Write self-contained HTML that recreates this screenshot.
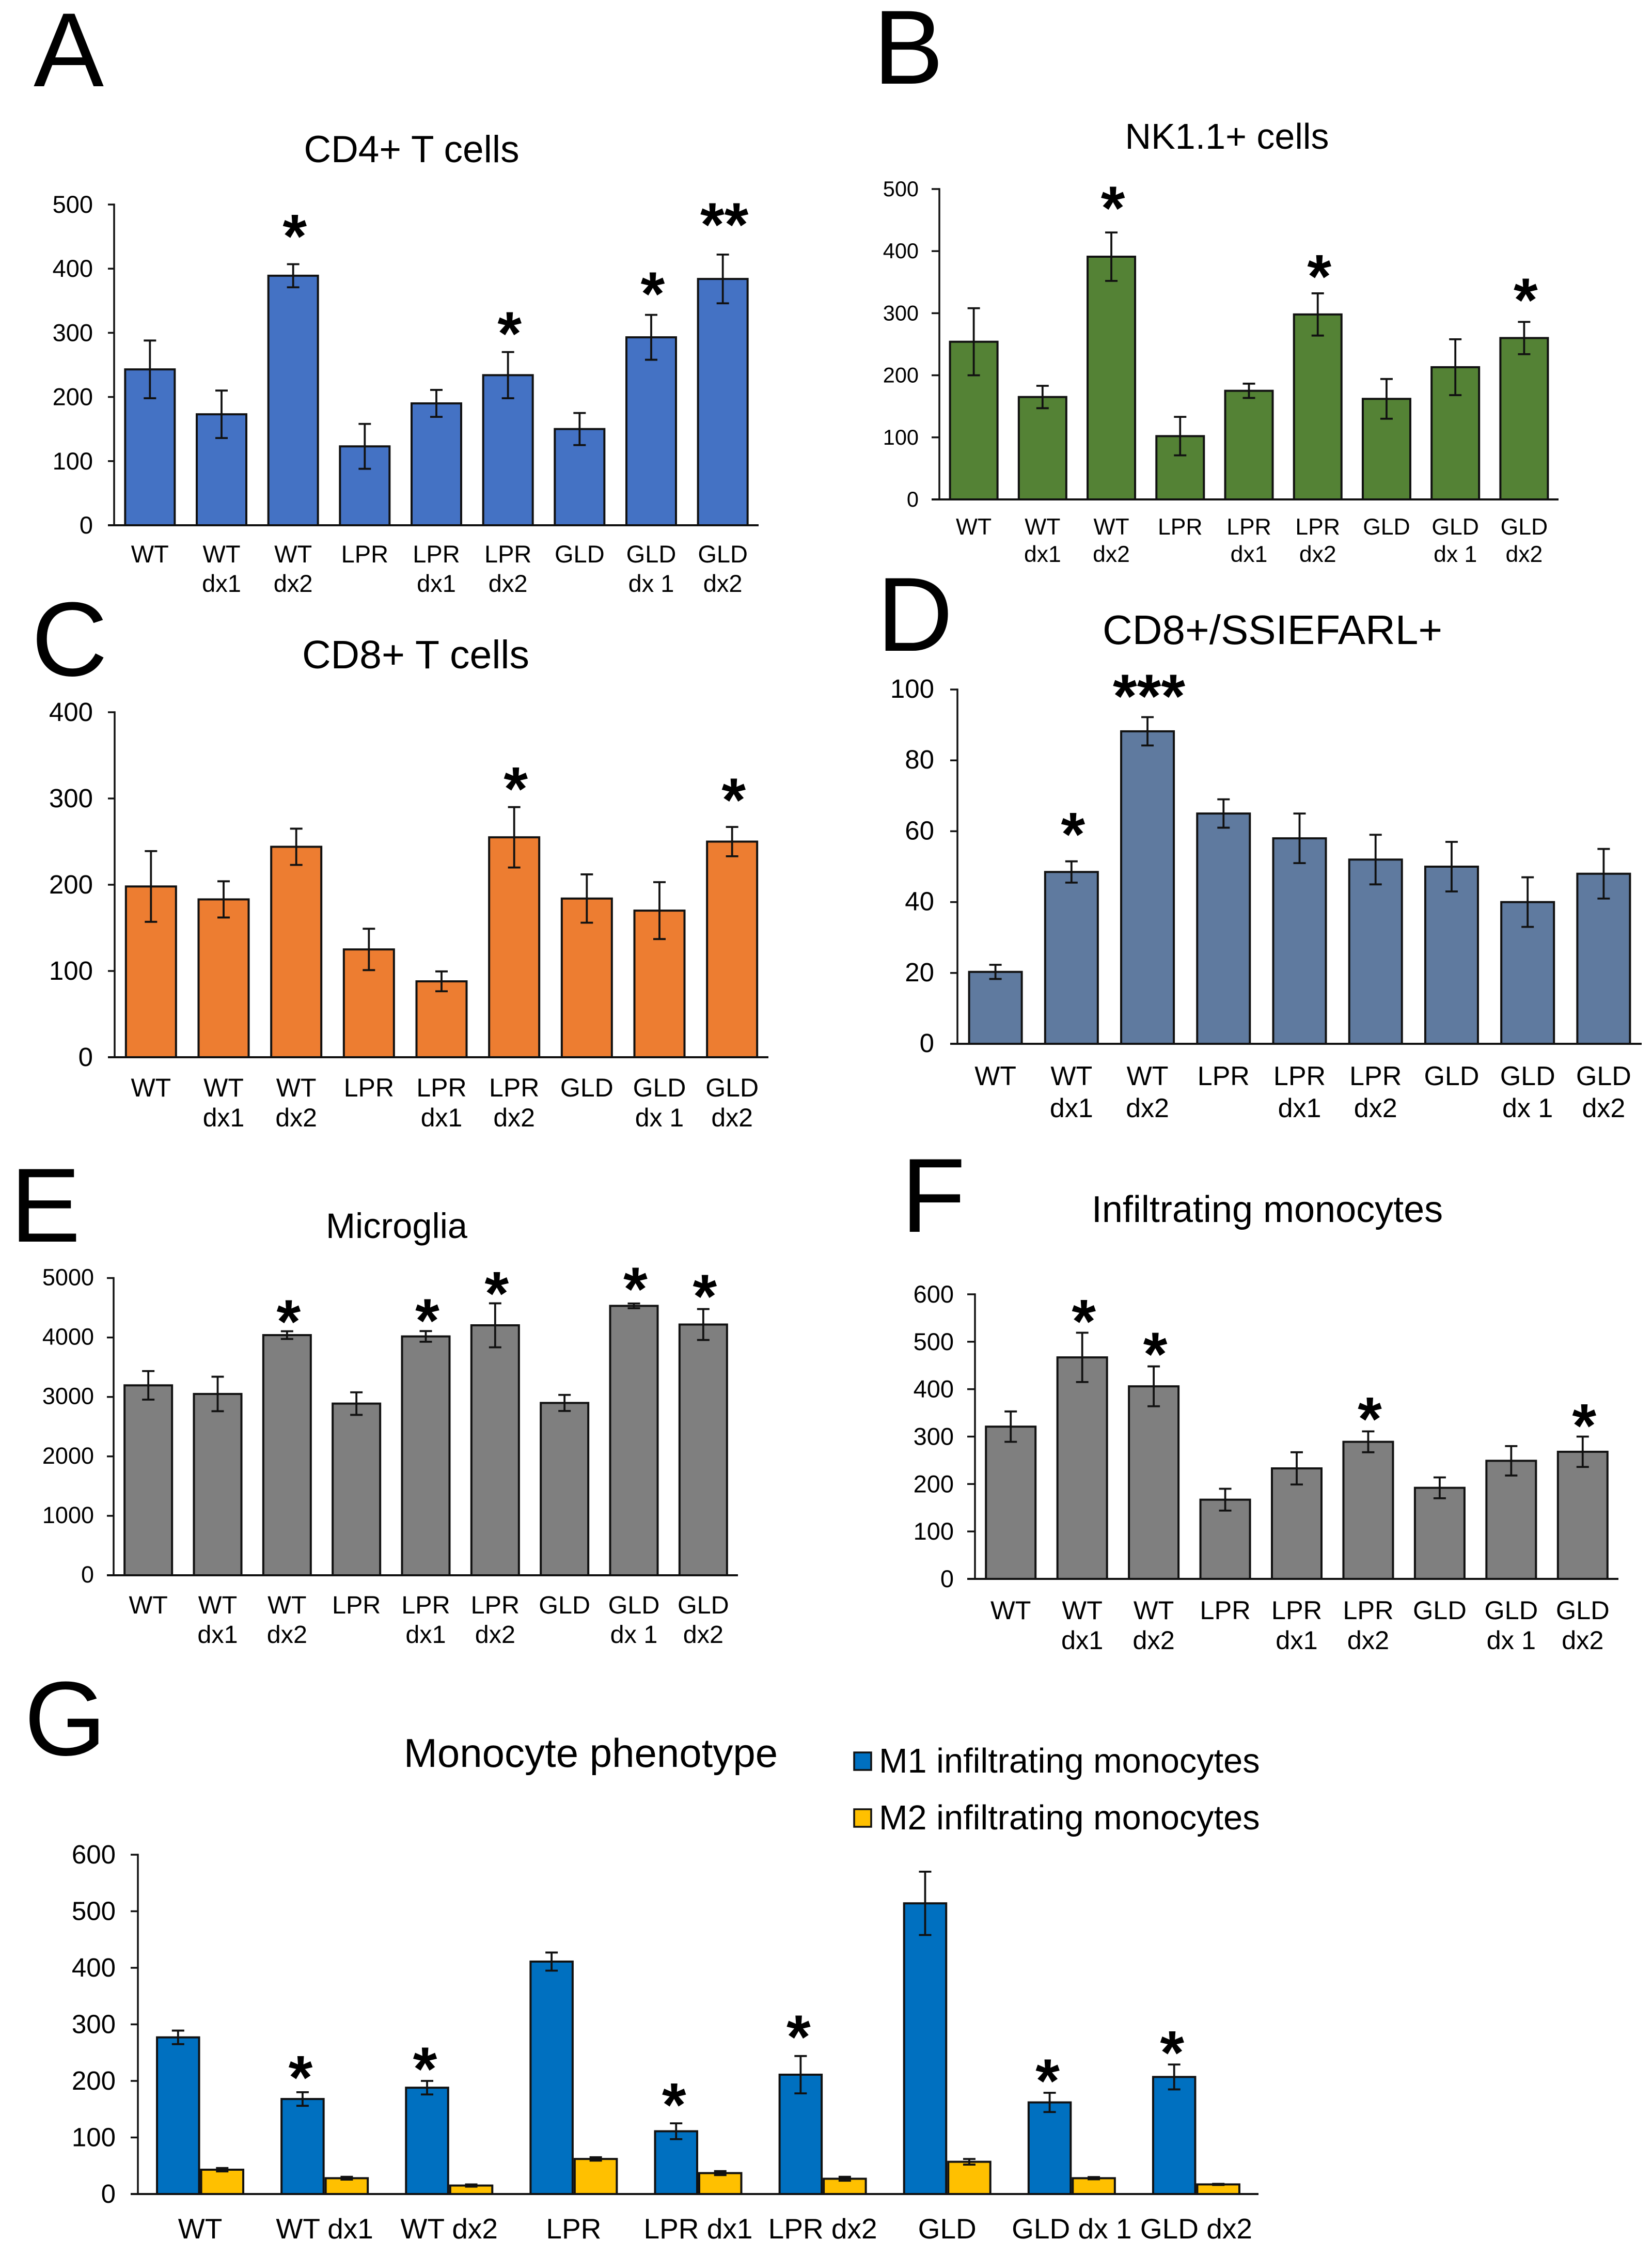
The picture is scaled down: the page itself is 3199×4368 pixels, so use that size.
<!DOCTYPE html>
<html lang="en">
<head>
<meta charset="utf-8">
<title>Immune cell panels</title>
<style>
html,body{margin:0;padding:0;background:#fff;}
svg{display:block;}
text{font-family:"Liberation Sans",Arial,sans-serif;fill:#000;}
</style>
</head>
<body>
<svg id="figure" xmlns="http://www.w3.org/2000/svg" width="3199" height="4368" viewBox="0 0 3199 4368">
<rect x="0" y="0" width="3199" height="4368" fill="#fff"/>

<text x="65" y="167" font-size="204">A</text>
<text x="1691" y="162" font-size="204">B</text>
<text x="61" y="1308" font-size="204">C</text>
<text x="1698" y="1260" font-size="204">D</text>
<text x="20" y="2404" font-size="204">E</text>
<text x="1745" y="2385" font-size="204">F</text>
<text x="47" y="3398" font-size="204">G</text>

<text x="797" y="314" font-size="73" text-anchor="middle">CD4+ T cells</text>
<text x="2376" y="288" font-size="70" text-anchor="middle">NK1.1+ cells</text>
<text x="805" y="1294" font-size="77" text-anchor="middle">CD8+ T cells</text>
<text x="2464" y="1247" font-size="80" text-anchor="middle">CD8+/SSIEFARL+</text>
<text x="768" y="2397" font-size="68.5" text-anchor="middle">Microglia</text>
<text x="2454" y="2366" font-size="72" text-anchor="middle">Infiltrating monocytes</text>
<text x="1144" y="3421" font-size="78" text-anchor="middle">Monocyte phenotype</text>

<g id="panel-a"></g>
<g id="panel-b"></g>
<g id="panel-c"></g>
<g id="panel-d"></g>
<g id="panel-e"></g>
<g id="panel-f"></g>
<g id="panel-g"></g>

<g>
  <g>
    <rect x="1654" y="3393" width="33" height="34" fill="#0070C0" stroke="#111" stroke-width="3.5"/>
    <text x="1702" y="3432" font-size="66.7">M1 infiltrating monocytes</text>
  </g>
  <g>
    <rect x="1654" y="3503" width="33" height="34" fill="#FFC000" stroke="#111" stroke-width="3.5"/>
    <text x="1702" y="3542" font-size="66.7">M2 infiltrating monocytes</text>
  </g>
</g>
</svg>

<script>
// ---- shared categories ----
const categories = ["WT","WT dx1","WT dx2","LPR","LPR dx1","LPR dx2","GLD","GLD dx 1","GLD dx2"];

// ---- panel A: CD4+ T cells ----
const aTicks = [0,100,200,300,400,500];
const aValues = [243,173,389,123,190,234,150,293,384];
const aErrors = [45,37,18,35,21,36,25,35,38];
const aStars = ["","","*","","","*","","*","**"];
const aStarLevels = [0,0,464,0,0,312,0,374,482];

// ---- panel B: NK1.1+ cells ----
const bTicks = [0,100,200,300,400,500];
const bValues = [254,165,391,102,175,298,162,213,260];
const bErrors = [54,18,39,31,11.5,34,32,45,26];
const bStars = ["","","*","","","*","","","*"];
const bStarLevels = [0,0,483,0,0,373,0,0,335];

// ---- panel C: CD8+ T cells ----
const cTicks = [0,100,200,300,400];
const cValues = [198,183,244,125,88,255,184,170,250];
const cErrors = [41,21,21,24,11.5,35,28,33,17];
const cStars = ["","","","","","*","","","*"];
const cStarLevels = [0,0,0,0,0,321,0,0,308];

// ---- panel D: CD8+/SSIEFARL+ ----
const dTicks = [0,20,40,60,80,100];
const dValues = [20.3,48.5,88.2,65,58,52,50,40,48];
const dErrors = [2,3,4,4,7,7,7,7,7];
const dStars = ["","*","***","","","","","",""];
const dStarLevels = [0,61.5,100.5,0,0,0,0,0,0];

// ---- panel E: Microglia ----
const eTicks = [0,1000,2000,3000,4000,5000];
const eValues = [3195,3050,4040,2888,4018,4205,2899,4532,4218];
const eErrors = [240,290,65,190,90,370,135,40,260];
const eStars = ["","","*","","*","*","","*","*"];
const eStarLevels = [0,0,4412,0,4429,4884,0,4956,4834];

// ---- panel F: Infiltrating monocytes ----
const fTicks = [0,100,200,300,400,500,600];
const fValues = [321,467,406,167,233,289,192,249,268];
const fErrors = [32,52,42,23,34,22,22,31,32];
const fStars = ["","*","*","","","*","","","*"];
const fStarLevels = [0,561,492,0,0,355,0,0,341];

// ---- panel G: Monocyte phenotype ----
const gTicks = [0,100,200,300,400,500,600];
const gM1Values = [277,168,188,411,111,211,514,162,207];
const gM1Errors = [12,12,12,16,14,33,56,17,22];
const gM2Values = [43,28,15,62,37,27,57,28,17];
const gM2Errors = [3,2.5,2,3,3.5,3.5,5,2,1];
const gStars = ["","*","*","","*","*","","*","*"];
const gStarLevels = [0,221,236,0,172.5,293,0,215,265];

const NS = "http://www.w3.org/2000/svg";
const INK = "#111";

function make(tag, attrs, parent) {
  const el = document.createElementNS(NS, tag);
  for (const k in attrs) el.setAttribute(k, attrs[k]);
  parent.appendChild(el);
  return el;
}
function slug(s) { return s.toLowerCase().replace(/\s+/g, "-"); }

function drawPanel(cfg, cats, ticks, series, stars, starLevels) {
  const root = document.getElementById(cfg.id);
  const maxV = Math.max.apply(null, ticks);
  const yScale = v => cfg.base - (v / maxV) * (cfg.base - cfg.top);
  const band = (cfg.x1 - cfg.x0) / cats.length;
  const xCenter = i => cfg.x0 + (i + 0.5) * band;
  const groupW = cfg.barW * series.length;

  // bars and error bars
  cats.forEach((cat, i) => {
    series.forEach((s, j) => {
      const left = xCenter(i) - groupW / 2 + j * cfg.barW;
      const v = s.values[i];
      const yv = yScale(v);
      const bar = make("rect", {
        x: left + 2, y: yv, width: cfg.barW - 4, height: cfg.base - yv,
        fill: s.color, stroke: INK, "stroke-width": 4
      }, root);
      
      

      const cx = left + cfg.barW / 2;
      const yHi = yScale(v + s.errors[i]);
      const yLo = yScale(v - s.errors[i]);
      const cap = 12;
      const err = make("path", {
        d: "M" + cx + " " + yHi + "V" + yLo +
           "M" + (cx - cap) + " " + yHi + "H" + (cx + cap) +
           "M" + (cx - cap) + " " + yLo + "H" + (cx + cap),
        fill: "none", stroke: INK, "stroke-width": 3.8
      }, root);
      
      
    });

    // significance stars
    if (stars[i]) {
      const firstCenter = xCenter(i) - groupW / 2 + cfg.barW / 2;
      const star = make("text", {
        x: firstCenter + cfg.starDx, y: yScale(starLevels[i]) + cfg.starLift * cfg.starFs,
        "font-size": cfg.starFs, "text-anchor": "middle", "font-weight": cfg.starWeight
      }, root);
      star.textContent = stars[i];
      
      
    }

    // category labels
    let lines;
    if (cfg.singleLine) {
      lines = [cat];
    } else {
      const sp = cat.indexOf(" ");
      lines = sp < 0 ? [cat] : [cat.slice(0, sp), cat.slice(sp + 1)];
    }
    lines.forEach((ln, k) => {
      const lab = make("text", {
        x: xCenter(i), y: cfg.base + cfg.catDy + k * cfg.catLine,
        "font-size": cfg.catFs, "text-anchor": "middle"
      }, root);
      lab.textContent = ln;
      
      
    });
  });

  // y axis
  const yAxis = make("line", { x1: cfg.x0, x2: cfg.x0, y1: yScale(maxV) - 1.75, y2: cfg.base, stroke: INK, "stroke-width": 3.5 }, root);
  
  

  ticks.forEach(t => {
    const tick = make("line", { x1: cfg.tickLeft, x2: cfg.x0, y1: yScale(t), y2: yScale(t), stroke: INK, "stroke-width": 3.5 }, root);
    
    

    const lab = make("text", {
      x: cfg.tickRight, y: yScale(t) + cfg.tickDy,
      "font-size": cfg.tickFs, "text-anchor": "end"
    }, root);
    lab.textContent = String(t);
    
    
  });

  // x axis on top of the bars
  const xAxis = make("line", { x1: cfg.tickLeft, x2: cfg.x1, y1: cfg.base, y2: cfg.base, stroke: INK, "stroke-width": 4 }, root);
  
  
}

const starDefaults = { starFs: 120, starWeight: "bold", starDx: 3, starLift: 0.48 };

drawPanel(Object.assign({ id:"panel-a", x0:221, x1:1469, base:1017, top:396, tickLeft:209, tickRight:180, tickDy:16, tickFs:47, barW:100, catFs:47, catDy:72, catLine:57 }, starDefaults),
  categories, aTicks, [{ key:"", values:aValues, errors:aErrors, color:"#4472C4" }], aStars, aStarLevels);

drawPanel(Object.assign({ id:"panel-b", x0:1819, x1:3018, base:967, top:366, tickLeft:1804, tickRight:1779, tickDy:14, tickFs:41.5, barW:96, catFs:44.5, catDy:68, catLine:53 }, starDefaults),
  categories, bTicks, [{ key:"", values:bValues, errors:bErrors, color:"#548235" }], bStars, bStarLevels);

drawPanel(Object.assign({ id:"panel-c", x0:222, x1:1488, base:2047, top:1379, tickLeft:209, tickRight:180, tickDy:17, tickFs:51, barW:101, catFs:50, catDy:76, catLine:58 }, starDefaults),
  categories, cTicks, [{ key:"", values:cValues, errors:cErrors, color:"#ED7D31" }], cStars, cStarLevels);

drawPanel(Object.assign({ id:"panel-d", x0:1854, x1:3179, base:2021, top:1335, tickLeft:1840, tickRight:1809, tickDy:16, tickFs:51, barW:106, catFs:52, catDy:80, catLine:62 }, starDefaults),
  categories, dTicks, [{ key:"", values:dValues, errors:dErrors, color:"#5F7A9F" }], dStars, dStarLevels);

drawPanel(Object.assign({ id:"panel-e", x0:220, x1:1429, base:3050, top:2474.5, tickLeft:207, tickRight:182, tickDy:14, tickFs:45, barW:96, catFs:48.5, catDy:74, catLine:57 }, starDefaults),
  categories, eTicks, [{ key:"", values:eValues, errors:eErrors, color:"#7F7F7F" }], eStars, eStarLevels);

drawPanel(Object.assign({ id:"panel-f", x0:1888, x1:3134, base:3057, top:2506, tickLeft:1873, tickRight:1847, tickDy:16, tickFs:47, barW:100, catFs:50.5, catDy:78, catLine:58 }, starDefaults),
  categories, fTicks, [{ key:"", values:fValues, errors:fErrors, color:"#7F7F7F" }], fStars, fStarLevels);

drawPanel(Object.assign({ id:"panel-g", x0:267, x1:2437, base:4248, top:3591, tickLeft:253, tickRight:224, tickDy:17, tickFs:51, barW:85.5, catFs:55, catDy:86, catLine:0, singleLine:true }, starDefaults, { starDx:-4 }),
  categories, gTicks, [
    { key:"m1-", values:gM1Values, errors:gM1Errors, color:"#0070C0" },
    { key:"m2-", values:gM2Values, errors:gM2Errors, color:"#FFC000" }
  ], gStars, gStarLevels);
</script>
</body>
</html>
